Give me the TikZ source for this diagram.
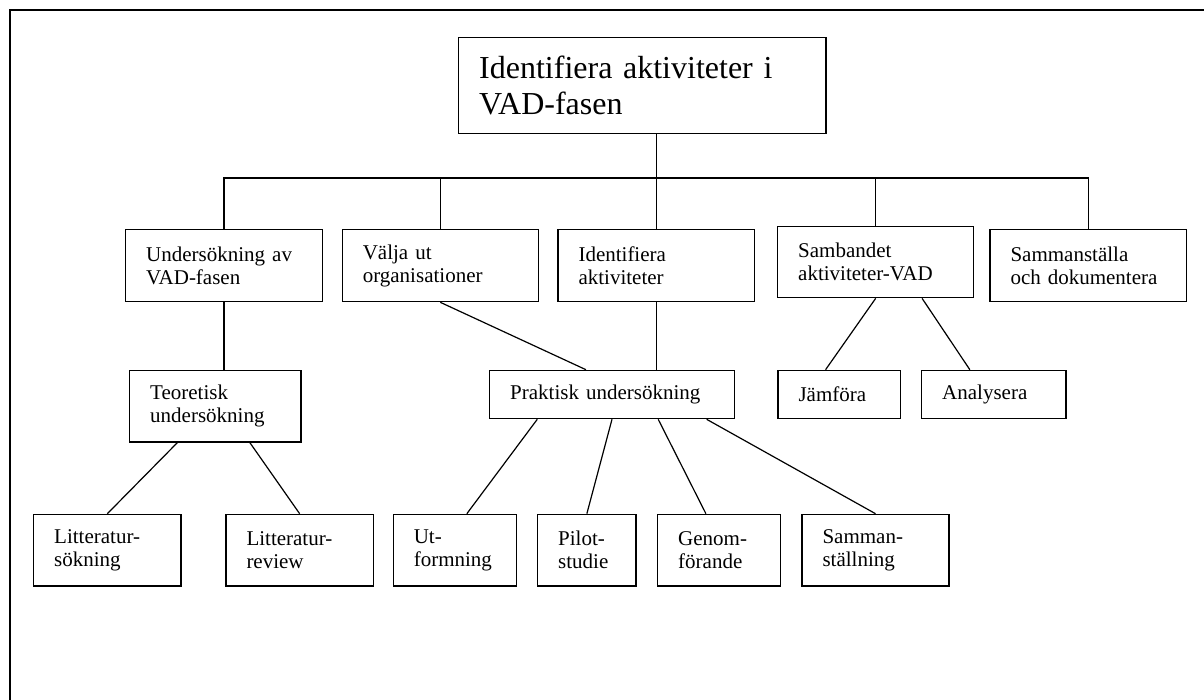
\documentclass[tikz,border=0pt]{standalone}
\usepackage{fontspec}
\setmainfont{Liberation Serif}
\usetikzlibrary{calc}
\hyphenpenalty=10000
\exhyphenpenalty=10000
\begin{document}
\begin{tikzpicture}[x=1pt,y=-1pt,
  line width=1.2pt,
  box/.style={draw, rectangle, line width=1.2pt, inner xsep=20.5pt, inner ysep=0pt,
    align=left, font=\fontsize{21}{23}\selectfont},
  bigbox/.style={box, font=\fontsize{32}{36}\selectfont},
  link/.style={line width=1.2pt}]
\useasboundingbox (0,0) rectangle (1204,699);
\clip (0,0) rectangle (1204,699);
% outer frame
\draw (10,10) rectangle (1220,720);

% root
\node[bigbox, minimum width=367.3pt, minimum height=96pt, text width=326.3pt]
  (root) at (642.35,85.3) {Identifiera aktiviteter i\\VAD-fasen};

% first level
\node[box, minimum width=196.6pt, minimum height=72.4pt, text width=155.6pt]
  (und) at (224,265.5) {Undersökning av\\VAD-fasen};
\node[box, minimum width=196pt, minimum height=72.4pt, text width=155pt]
  (valja) at (440.3,265.5) {Välja ut\\organisationer};
\node[box, minimum width=196.3pt, minimum height=72.4pt, text width=155.3pt]
  (ident) at (656.15,265.5) {Identifiera\\aktiviteter};
\node[box, minimum width=196pt, minimum height=71pt, text width=155pt]
  (samb) at (875.7,262.2) {Sambandet\\aktiviteter-VAD};
\node[box, minimum width=196.7pt, minimum height=72.4pt, text width=155.7pt]
  (samm) at (1088.35,265.5) {Sammanställa\\och dokumentera};

% second level
\node[box, minimum width=171.3pt, minimum height=71.7pt, text width=130.3pt]
  (teor) at (215.35,406.15) {Teoretisk\\undersökning};
\node[box, minimum width=244.6pt, minimum height=48.4pt, text width=203.6pt]
  (prakt) at (612,394.5) {Praktisk undersökning};
\node[box, minimum width=122.3pt, minimum height=48.4pt, text width=81.3pt]
  (jamf) at (839.15,394.5) {Jämföra};
\node[box, minimum width=144.3pt, minimum height=48.4pt, text width=103.3pt]
  (analys) at (993.85,394.5) {Analysera};

% third level
\node[box, minimum width=147.3pt, minimum height=71.7pt, text width=106.3pt]
  (lsok) at (107.35,550.15) {Litteratur-\\sökning};
\node[box, minimum width=147.3pt, minimum height=71.7pt, text width=106.3pt]
  (lrev) at (299.65,550.15) {Litteratur-\\review};
\node[box, minimum width=123pt, minimum height=71.7pt, text width=82pt]
  (utf) at (454.8,550.15) {Ut-\\formning};
\node[box, minimum width=98.3pt, minimum height=71.7pt, text width=57.3pt]
  (pilot) at (586.85,550.15) {Pilot-\\studie};
\node[box, minimum width=123pt, minimum height=71.7pt, text width=82pt]
  (genom) at (719.2,550.15) {Genom-\\förande};
\node[box, minimum width=147pt, minimum height=71.7pt, text width=106pt]
  (samst) at (875.5,550.15) {Samman-\\ställning};

% bus under the root
\coordinate (bus) at (0,178);
\draw[link] (root.south -| ident.north) -- (ident.north);
\draw[link] (und.north) -- (und.north |- bus) -- (samm.north |- bus) -- (samm.north);
\draw[link] (valja.north) -- (valja.north |- bus);
\draw[link] (samb.north) -- (samb.north |- bus);

% left branch
\draw[link] (und.south) -- (und.south |- teor.north);
\draw[link] ($(teor.south west)!0.28!(teor.south east)$) -- (lsok.north);
\draw[link] ($(teor.south west)!0.70!(teor.south east)$) -- (lrev.north);

% middle branch
\draw[link] (valja.south) -- ($(prakt.north west)!0.394!(prakt.north east)$);
\draw[link] (ident.south) -- (ident.south |- prakt.north);
\draw[link] ($(prakt.south west)!0.196!(prakt.south east)$) -- ($(utf.north west)!0.597!(utf.north east)$);
\draw[link] (prakt.south) -- (pilot.north);
\draw[link] ($(prakt.south west)!0.688!(prakt.south east)$) -- ($(genom.north west)!0.393!(genom.north east)$);
\draw[link] ($(prakt.south west)!0.885!(prakt.south east)$) -- (samst.north);

% right branch
\draw[link] (samb.south) -- ($(jamf.north west)!0.39!(jamf.north east)$);
\draw[link] ($(samb.south west)!0.735!(samb.south east)$) -- ($(analys.north west)!0.335!(analys.north east)$);
\end{tikzpicture}
\end{document}
